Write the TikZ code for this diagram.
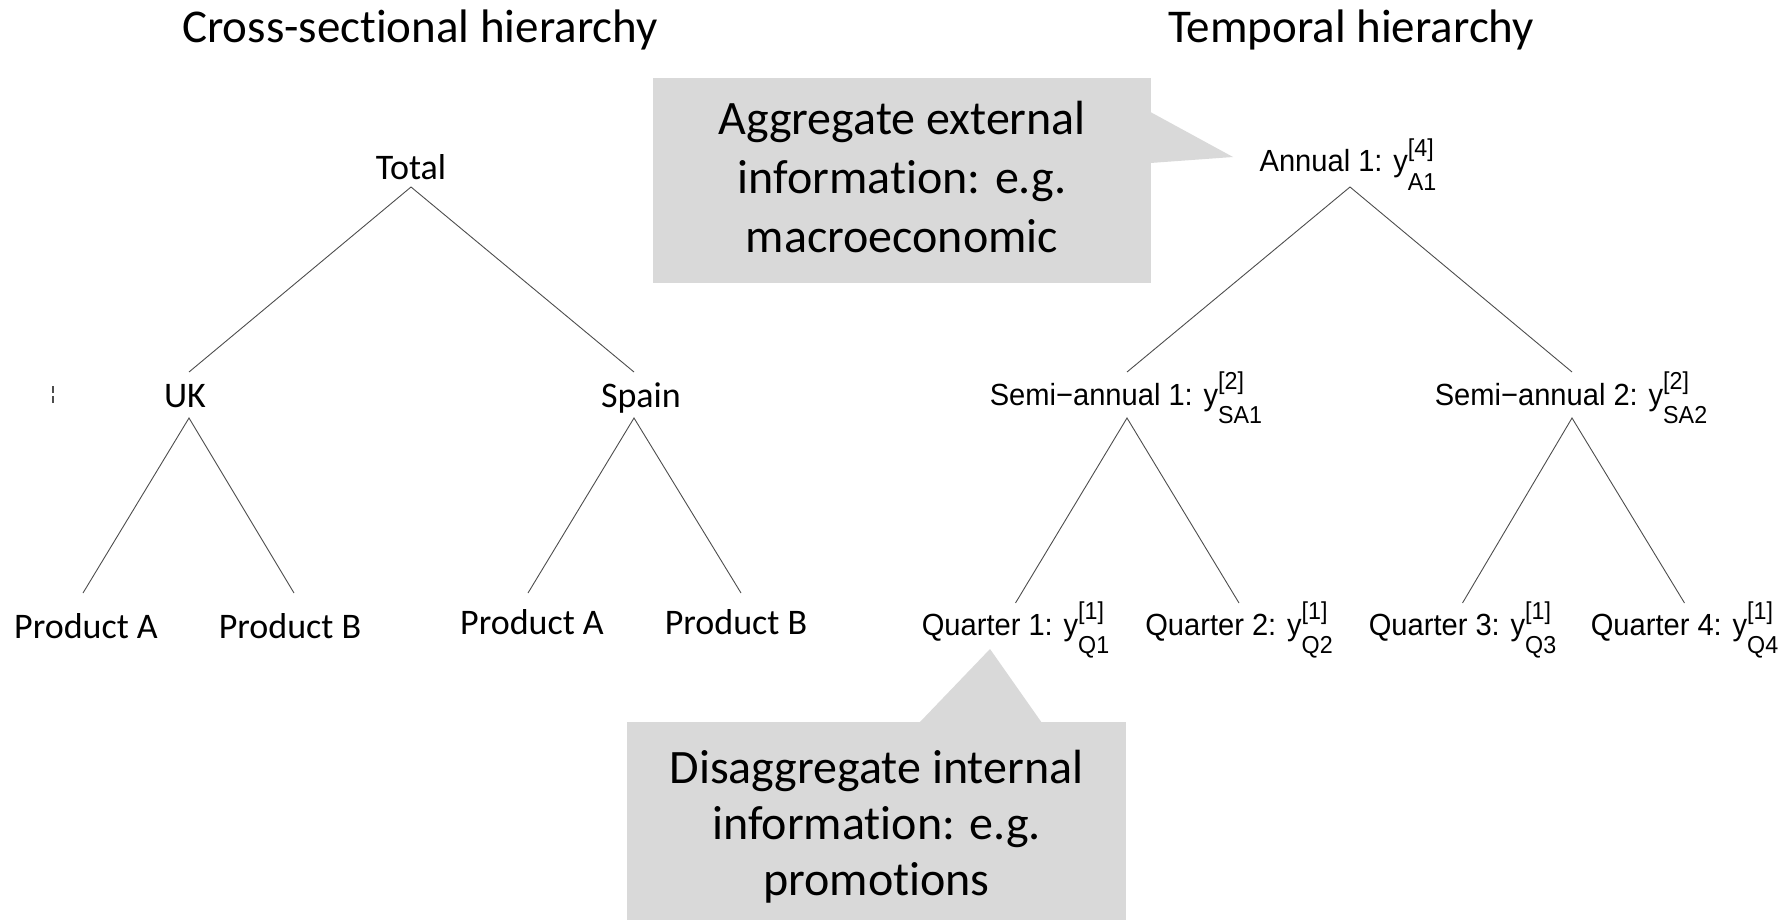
\documentclass[tikz,border=0pt]{standalone}
\usepackage{fontspec}
\usepackage{graphicx}
\setmainfont{Carlito}[Ligatures=NoCommon]
\newfontfamily\rfont{Liberation Sans}
\usetikzlibrary{calc}
\definecolor{boxgray}{HTML}{D9D9D9}
\definecolor{linegray}{HTML}{4D4D4D}
\newcommand\rlab[3]{\scalebox{0.97}[1.02]{\rfont\fontsize{30}{36}\selectfont #1y\makebox[0pt][l]{\raisebox{15pt}{\fontsize{24}{28}\selectfont[#2]}}\raisebox{-18pt}{\fontsize{24}{28}\selectfont #3}}}
\begin{document}
\begin{tikzpicture}[x=1pt,y=-1pt,
  cs/.style={font=\fontsize{36}{43}\selectfont, anchor=base, inner sep=0pt},
  ttl/.style={font=\fontsize{47}{56}\selectfont, anchor=base, inner sep=0pt},
  callt/.style={font=\fontsize{48}{58}\selectfont, anchor=base, inner sep=0pt},
  tl/.style={anchor=base, inner sep=0pt},
  edge/.style={draw=linegray, line width=0.9pt},
  callbox/.style={fill=boxgray, draw=none, inner sep=0pt, anchor=north west}]
\useasboundingbox (0,0) rectangle (1791,920);

% titles
\node[ttl] (t1) at (420,43) {Cross-sectional hierarchy};
\node[ttl] (t2) at (1351,43) {Temporal hierarchy};

% callout boxes
\node[callbox, minimum width=498pt, minimum height=205pt] (aggbox) at (653,78) {};
\coordinate (aggtip) at (1233,157);
\fill[boxgray] ($(aggbox.north east)+(-1,34)$) -- (aggtip) -- ($(aggbox.north east)+(-1,85)$) -- cycle;
\node[callt] (agg1) at (902,135) {Aggregate external};
\node[callt] (agg2) at (902,194) {information: e.g.};
\node[callt] (agg3) at (902,252) {macroeconomic};

\node[callbox, minimum width=499pt, minimum height=198pt] (disbox) at (627,722) {};
\coordinate (distip) at (990,649);
\fill[boxgray] ($(disbox.north west)+(292,1)$) -- (distip) -- ($(disbox.north west)+(415,1)$) -- cycle;
\node[callt] (dis1) at (876.5,783) {Disaggregate internal};
\node[callt] (dis2) at (876.5,839) {information: e.g.};
\node[callt] (dis3) at (876.5,895) {promotions};

% cross-sectional tree
\node[cs] (total) at (411,180) {Total};
\node[cs] (uk) at (185,407) {UK};
\node[cs] (spain) at (641,407) {Spain};
\node[cs] (pa1) at (86,638) {Product A};
\node[cs] (pb1) at (290,638) {Product B};
\node[cs] (pa2) at (532,634) {Product A};
\node[cs] (pb2) at (736,634) {Product B};

\draw[edge] ($(uk.base)+(4,-35)$) -- ($(total.base)+(0,7)$) -- ($(spain.base)+(-7,-35)$);
\draw[edge] ($(pa1.base)+(-3,-45)$) -- ($(uk.base)+(4,11)$) -- ($(pb1.base)+(4,-45)$);
\draw[edge] ($(pa2.base)+(-4,-41)$) -- ($(spain.base)+(-7,11)$) -- ($(pb2.base)+(5,-41)$);

% stray fragment at left edge
\draw[linegray, line width=1.4pt] (53,386) -- (53,393) (53,396) -- (53,403);

% temporal tree
\node[tl] (annual) at (1348,172) {\rlab{Annual 1: }{4}{A1}};
\node[tl] (semi1) at (1126,405) {\rlab{Semi−annual 1: }{2}{SA1}};
\node[tl] (semi2) at (1571,405) {\rlab{Semi−annual 2: }{2}{SA2}};
\node[tl] (q1) at (1015.5,635) {\rlab{Quarter 1: }{1}{Q1}};
\node[tl] (q2) at (1239,635) {\rlab{Quarter 2: }{1}{Q2}};
\node[tl] (q3) at (1462.5,635) {\rlab{Quarter 3: }{1}{Q3}};
\node[tl] (q4) at (1684.5,635) {\rlab{Quarter 4: }{1}{Q4}};

\draw[edge] ($(semi1.base)+(1,-33)$) -- ($(annual.base)+(2,15)$) -- ($(semi2.base)+(1,-33)$);
\draw[edge] ($(q1.base)+(0,-32)$) -- ($(semi1.base)+(1,13)$) -- ($(q2.base)+(0,-32)$);
\draw[edge] ($(q3.base)+(0,-32)$) -- ($(semi2.base)+(1,13)$) -- ($(q4.base)+(0,-32)$);
\end{tikzpicture}
\end{document}
